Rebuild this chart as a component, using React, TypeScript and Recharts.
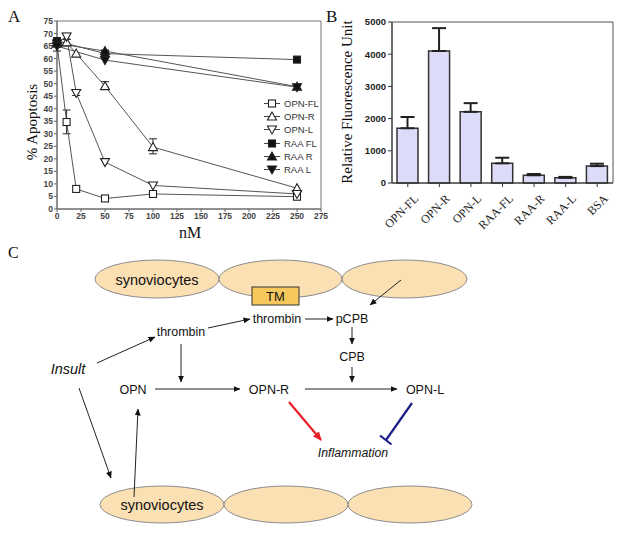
import React from 'react';
import { LineChart, Line, XAxis, YAxis, ErrorBar, Legend, BarChart, Bar, Label, ReferenceArea } from 'recharts';

// ---------- Panel A data ----------
const opnDoses = [0, 10, 20, 50, 100, 250];
const raaDoses = [0, 50, 250];
const opnFL = [66, 34.7, 8, 4.2, 6, 4.9];
const opnFLErr = [null, [4.7, 4.8], null, null, [0.6, 0.6], null];
const opnR = [66.5, 66.5, 62, 49, 24.7, 8.3];
const opnRErr = [null, [1.5, 1.2], null, [0.5, 1.8], [2.7, 3.3], null];
const opnL = [66, 68.8, 46.3, 18.7, 9.4, 6];
const opnLErr = [null, [1, 1.3], [1, 1], null, null, null];
const raaFL = [67, 62, 59.6];
const raaR = [66, 63, 48.8];
const raaL = [65, 59.4, 48.6];
const raaLErr = [[2, 1], null, null];
const xTicksA = [0, 25, 50, 75, 100, 125, 150, 175, 200, 225, 250, 275];
const yTicksA = [0, 5, 10, 15, 20, 25, 30, 35, 40, 45, 50, 55, 60, 65, 70, 75];

// ---------- Panel B data ----------
const proteins = ['OPN-FL', 'OPN-R', 'OPN-L', 'RAA-FL', 'RAA-R', 'RAA-L', 'BSA'];
const fluorescence = [1700, 4100, 2210, 610, 240, 160, 525];
const fluorescenceUpper = [2050, 4810, 2480, 785, 280, 190, 600];
const yTicksB = [0, 1000, 2000, 3000, 4000, 5000];

const SANS = '"Liberation Sans", Arial, sans-serif';
const SERIF = '"Liberation Serif", "Times New Roman", serif';

const mk = (xs: number[], ys: number[], errs?: any[]) =>
  xs.map((x, i) => ({ x, y: ys[i], err: errs && errs[i] ? errs[i] : undefined }));

type Kind = 'square' | 'up' | 'down';
const seriesA = [
  { name: 'OPN-FL', kind: 'square' as Kind, filled: false, data: mk(opnDoses, opnFL, opnFLErr) },
  { name: 'OPN-R', kind: 'up' as Kind, filled: false, data: mk(opnDoses, opnR, opnRErr) },
  { name: 'OPN-L', kind: 'down' as Kind, filled: false, data: mk(opnDoses, opnL, opnLErr) },
  { name: 'RAA FL', kind: 'square' as Kind, filled: true, data: mk(raaDoses, raaFL) },
  { name: 'RAA R', kind: 'up' as Kind, filled: true, data: mk(raaDoses, raaR) },
  { name: 'RAA L', kind: 'down' as Kind, filled: true, data: mk(raaDoses, raaL, raaLErr) },
];

const barData = proteins.map((p, i) => ({
  name: p,
  v: fluorescence[i],
  err: [0, fluorescenceUpper[i] - fluorescence[i]],
}));

function Marker({ cx, cy, kind, filled }: { cx: number; cy: number; kind: Kind; filled: boolean }) {
  const fill = filled ? '#111' : '#fff';
  const stroke = '#222';
  if (kind === 'square') {
    return <rect x={cx - 3.5} y={cy - 3.5} width={7} height={7} fill={fill} stroke={stroke} strokeWidth={1.1} />;
  }
  if (kind === 'up') {
    return (
      <polygon
        points={`${cx},${cy - 4.5} ${cx - 4.5},${cy + 3.5} ${cx + 4.5},${cy + 3.5}`}
        fill={fill}
        stroke={stroke}
        strokeWidth={1.1}
      />
    );
  }
  return (
    <polygon
      points={`${cx - 4.5},${cy - 3.5} ${cx + 4.5},${cy - 3.5} ${cx},${cy + 4.5}`}
      fill={fill}
      stroke={stroke}
      strokeWidth={1.1}
    />
  );
}

function LegendA() {
  return (
    <div style={{ fontFamily: SANS, fontSize: 9.5, color: '#333', lineHeight: '13px' }}>
      {seriesA.map((s) => (
        <div key={s.name} style={{ display: 'flex', alignItems: 'center', height: 13.2 }}>
          <svg width={18} height={13} style={{ display: 'block' }}>
            <line x1={1} y1={6.5} x2={17} y2={6.5} stroke="#444" strokeWidth={1} />
            <Marker cx={9} cy={6.5} kind={s.kind} filled={s.filled} />
          </svg>
          <span style={{ marginLeft: 3, whiteSpace: 'nowrap' }}>{s.name}</span>
        </div>
      ))}
    </div>
  );
}

function BTick(props: any) {
  const { x, y, payload } = props;
  return (
    <g transform={`translate(${x + 5},${y + 4})`}>
      <text
        x={0}
        y={0}
        dy={9}
        textAnchor="end"
        transform="rotate(-45)"
        fontFamily={SERIF}
        fontSize={12}
        fill="#222"
      >
        {payload.value}
      </text>
    </g>
  );
}

const ARROW = 'url(#ah)';

function Diagram() {
  const ell = { fill: '#fbe0b4', stroke: '#8c8c8c', strokeWidth: 1 };
  const line = { stroke: '#222', strokeWidth: 1, markerEnd: ARROW };
  const t = (x: number, y: number, s: string, size: number, italic = false) => (
    <text
      x={x}
      y={y + size * 0.35}
      textAnchor="middle"
      fontFamily={SANS}
      fontSize={size}
      fontStyle={italic ? 'italic' : 'normal'}
      fill="#111"
    >
      {s}
    </text>
  );
  return (
    <svg width={624} height={535} style={{ position: 'absolute', left: 0, top: 0, pointerEvents: 'none' }}>
      <defs>
        <marker id="ah" markerWidth={7} markerHeight={6} refX={6.5} refY={3} orient="auto" markerUnits="userSpaceOnUse">
          <path d="M0,0 L7,3 L0,6 z" fill="#111" />
        </marker>
        <marker id="ahr" markerWidth={9} markerHeight={8} refX={8} refY={4} orient="auto" markerUnits="userSpaceOnUse">
          <path d="M0,0 L9,4 L0,8 z" fill="#e8202a" />
        </marker>
      </defs>
      <text x={8} y={22} fontFamily={SERIF} fontSize={17} fill="#111">A</text>
      <text x={326} y={22} fontFamily={SERIF} fontSize={17} fill="#111">B</text>
      <text x={8} y={258} fontFamily={SERIF} fontSize={16} fill="#111">C</text>

      {/* top cells */}
      <ellipse cx={157} cy={279} rx={62} ry={19} {...ell} />
      <ellipse cx={280.5} cy={279} rx={61.5} ry={19} {...ell} />
      <ellipse cx={404.5} cy={279} rx={62.5} ry={19} {...ell} />
      {t(157, 280, 'synoviocytes', 14.5)}
      <rect x={252} y={287} width={47} height={18} fill="#f7c95c" stroke="#333" strokeWidth={1} />
      {t(275.5, 296, 'TM', 13)}

      {/* bottom cells */}
      <ellipse cx={162} cy={504.5} rx={62} ry={18.5} {...ell} />
      <ellipse cx={286} cy={504.5} rx={62} ry={18.5} {...ell} />
      <ellipse cx={410} cy={504.5} rx={62} ry={18.5} {...ell} />
      {t(162, 505, 'synoviocytes', 14.5)}

      {t(277, 319, 'thrombin', 12.5)}
      {t(352, 319, 'pCPB', 12.5)}
      {t(181, 331.5, 'thrombin', 12.5)}
      {t(352, 357, 'CPB', 12.5)}
      {t(68, 369, 'Insult', 14.5, true)}
      {t(133, 390, 'OPN', 12.5)}
      {t(269, 390, 'OPN-R', 12.5)}
      {t(425, 390, 'OPN-L', 12.5)}
      {t(353, 453, 'Inflammation', 12.3, true)}

      <line x1={401} y1={280} x2={370} y2={305} {...line} />
      <line x1={208} y1={328} x2={250} y2={319} {...line} />
      <line x1={305} y1={319} x2={333} y2={319} {...line} />
      <line x1={352} y1={327} x2={352} y2={344} {...line} />
      <line x1={352} y1={367} x2={352} y2={382} {...line} />
      <line x1={181} y1={344} x2={181} y2={382} {...line} />
      <line x1={97} y1={363} x2={155} y2={337} {...line} />
      <line x1={155} y1={389} x2={240} y2={389} {...line} />
      <line x1={305} y1={389} x2={397} y2={389} {...line} />
      <line x1={79} y1={388} x2={111} y2={478} {...line} />
      <line x1={134} y1={497} x2={138} y2={409} {...line} />
      <line x1={289} y1={402} x2={321} y2={440} stroke="#e8202a" strokeWidth={2.2} markerEnd="url(#ahr)" />
      <line x1={412} y1={403} x2={386} y2={440} stroke="#1f1f8a" strokeWidth={2.2} />
      <line x1={380} y1={435.5} x2={391.5} y2={444.5} stroke="#1f1f8a" strokeWidth={2.2} />
    </svg>
  );
}

export default function App() {
  if (typeof document !== 'undefined') document.body.style.margin = '0';
  const tickA = { fontFamily: SANS, fontSize: 8.5, fontWeight: 700, fill: '#444' };
  const tickB = { fontFamily: SANS, fontSize: 9.5, fontWeight: 700, fill: '#222' };
  return (
    <div style={{ position: 'absolute', left: 0, top: 0, width: 624, height: 535, background: '#fff', overflow: 'hidden' }}>
      <div style={{ position: 'absolute', left: 0, top: 0 }}>
        <LineChart width={330} height={244} margin={{ top: 21, right: 9, left: 0, bottom: 0 }}>
          <XAxis
            dataKey="x"
            type="number"
            domain={[0, 275]}
            ticks={xTicksA}
            interval={0}
            allowDuplicatedCategory={false}
            height={35}
            tick={tickA}
            tickSize={3}
            tickMargin={1}
            stroke="#666"
          >
            <Label
              content={() => (
                <text x={190} y={238} textAnchor="middle" fontFamily={SERIF} fontSize={16} fill="#111">
                  nM
                </text>
              )}
            />
          </XAxis>
          <YAxis
            dataKey="y"
            type="number"
            domain={[0, 75]}
            ticks={yTicksA}
            interval={0}
            width={57}
            tick={tickA}
            tickSize={3}
            tickMargin={1}
            stroke="#666"
          >
            <Label
              content={() => (
                <text
                  x={37}
                  y={122}
                  transform="rotate(-90 37 122)"
                  textAnchor="middle"
                  fontFamily={SERIF}
                  fontSize={15}
                  fill="#111"
                >
                  % Apoptosis
                </text>
              )}
            />
          </YAxis>
          <ReferenceArea x1={0} x2={275} y1={0} y2={75} fill="none" stroke="#777" strokeWidth={1} fillOpacity={0} />
          {seriesA.map((s) => (
            <Line
              key={s.name}
              data={s.data}
              dataKey="y"
              name={s.name}
              stroke="#555"
              strokeWidth={1}
              isAnimationActive={false}
              dot={(p: any) => <Marker key={`${s.name}-${p.index}`} cx={p.cx} cy={p.cy} kind={s.kind} filled={s.filled} />}
              activeDot={false}
            >
              <ErrorBar dataKey="err" width={4} stroke="#222" strokeWidth={1} direction="y" />
            </Line>
          ))}
          <Legend
            layout="horizontal"
            align="center"
            verticalAlign="middle"
            content={() => <LegendA />}
            wrapperStyle={{ position: 'absolute', left: 263, top: 97, width: 60 }}
          />
        </LineChart>
      </div>
      <div style={{ position: 'absolute', left: 320, top: 0 }}>
        <BarChart width={300} height={240} data={barData} margin={{ top: 22, right: 7, left: 0, bottom: 0 }}>
          <XAxis dataKey="name" height={57} interval={0} tick={<BTick />} tickSize={4} stroke="#333" />
          <YAxis
            domain={[0, 5000]}
            ticks={yTicksB}
            interval={0}
            width={72}
            tick={tickB}
            tickSize={4}
            tickMargin={2}
            stroke="#333"
          >
            <Label
              content={() => (
                <text
                  x={32}
                  y={102}
                  transform="rotate(-90 32 102)"
                  textAnchor="middle"
                  fontFamily={SERIF}
                  fontSize={15}
                  fill="#111"
                >
                  Relative Fluorescence Unit
                </text>
              )}
            />
          </YAxis>
          <ReferenceArea
            x1="OPN-FL"
            x2="BSA"
            y1={0}
            y2={5000}
            fill="none"
            fillOpacity={0}
            stroke="#555"
            strokeWidth={1}
          />
          <Bar dataKey="v" barSize={21} fill="#dcdcf8" stroke="#333" strokeWidth={1.5} isAnimationActive={false}>
            <ErrorBar dataKey="err" width={7} stroke="#222" strokeWidth={2} direction="y" />
          </Bar>
        </BarChart>
      </div>
      <Diagram />
    </div>
  );
}
